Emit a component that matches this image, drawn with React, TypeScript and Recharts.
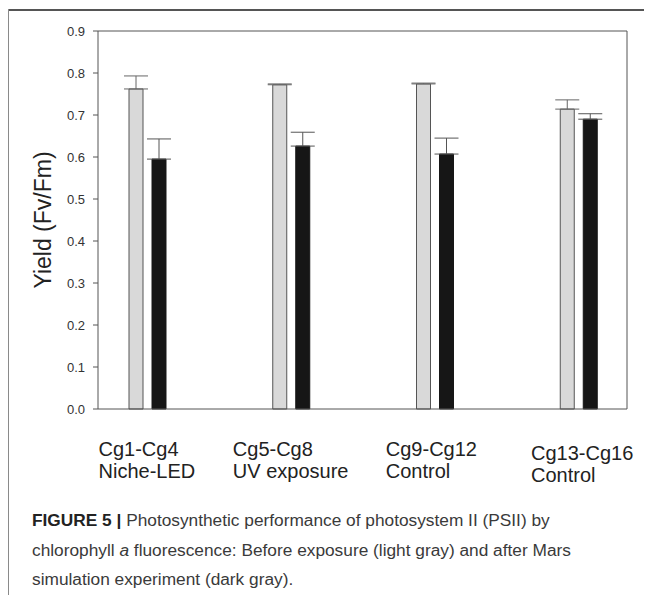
import { Bar, BarChart, ErrorBar, XAxis, YAxis } from "recharts";

const FONT = '"Liberation Sans", Arial, sans-serif';

// values (yield Fv/Fm)
const groupNames = ["Cg1-Cg4", "Cg5-Cg8", "Cg9-Cg12", "Cg13-Cg16"];
const groupTreatments = ["Niche-LED", "UV exposure", "Control", "Control"];
const beforeYield = [0.762, 0.772, 0.774, 0.714];
const beforeSd = [0.031, 0.002, 0.002, 0.022];
const afterYield = [0.595, 0.626, 0.607, 0.69];
const afterSd = [0.048, 0.033, 0.038, 0.013];
const yTicks = [0, 0.1, 0.2, 0.3, 0.4, 0.5, 0.6, 0.7, 0.8, 0.9];

// small hand nudges of the two-line group labels (px)
const labelNudgeX = [-1, -1, -4, 3];
const labelNudgeY = [0, 0, 0, 4];

const rows = groupNames.map((name, i) => ({
  name,
  before: beforeYield[i],
  beforeErr: [0, beforeSd[i]],
  after: afterYield[i],
  afterErr: [0, afterSd[i]],
}));

let ctx: CanvasRenderingContext2D | null = null;
function textWidth(s: string, size: number) {
  if (!ctx) ctx = document.createElement("canvas").getContext("2d");
  if (!ctx) return s.length * size * 0.5;
  ctx.font = `${size}px "Liberation Sans"`;
  return ctx.measureText(s).width;
}

function GroupTick(props: any) {
  const { x, y, index } = props;
  const size = 20;
  const top = groupNames[index];
  const bottom = groupTreatments[index];
  const w = Math.max(textWidth(top, size), textWidth(bottom, size));
  const left = x - w / 2 + (labelNudgeX[index] || 0);
  const dy = labelNudgeY[index] || 0;
  return (
    <g fontSize={size} fill="#222" fontFamily={FONT}>
      <text x={left} y={y + 47 + dy}>{top}</text>
      <text x={left} y={y + 69 + dy}>{bottom}</text>
    </g>
  );
}

export default function App() {
  const axisStroke = { stroke: "#555", strokeWidth: 1 };
  return (
    <div
      style={{
        position: "relative",
        width: 645,
        height: 586,
        marginLeft: -1,
        marginTop: 1,
        fontFamily: FONT,
      }}
    >
      <div style={{ position: "absolute", left: 0, top: 0, width: 645, height: 2, background: "#555" }} />
      <div style={{ position: "absolute", left: 0, top: 0, width: 2, height: 586, background: "#8a8a8a" }} />
      <div style={{ position: "absolute", left: 0, top: 0 }}>
        <BarChart
          width={645}
          height={490}
          data={rows}
          margin={{ top: 20, right: 20, left: 0, bottom: 0 }}
          barSize={14}
          barGap={9}
        >
          <XAxis
            dataKey="name"
            height={90}
            padding={{ left: -22, right: -24 }}
            tickLine={false}
            tickSize={0}
            tickMargin={0}
            axisLine={axisStroke}
            tick={<GroupTick />}
            interval={0}
          />
          <XAxis
            xAxisId="top"
            dataKey="name"
            orientation="top"
            height={2}
            tick={false}
            tickLine={false}
            axisLine={axisStroke}
          />
          <YAxis
            domain={[0, 0.9]}
            ticks={yTicks}
            width={91}
            tickSize={5}
            tickMargin={8}
            tickLine={axisStroke}
            axisLine={axisStroke}
            tickFormatter={(v: number) => v.toFixed(1)}
            tick={{ fontSize: 13, fill: "#333", fontFamily: FONT }}
            label={{
              value: "Yield (Fv/Fm)",
              angle: -90,
              position: "center",
              dx: -10,
              fontSize: 23,
              fill: "#222",
              fontFamily: FONT,
            }}
          />
          <YAxis
            yAxisId="right"
            orientation="right"
            domain={[0, 0.9]}
            width={5}
            tick={false}
            tickLine={false}
            axisLine={axisStroke}
          />
          <Bar dataKey="before" fill="#d9d9d9" stroke="#555" strokeWidth={1} isAnimationActive={false}>
            <ErrorBar dataKey="beforeErr" direction="y" width={12} stroke="#666" strokeWidth={1} />
          </Bar>
          <Bar dataKey="after" fill="#161616" stroke="#161616" strokeWidth={1} isAnimationActive={false}>
            <ErrorBar dataKey="afterErr" direction="y" width={12} stroke="#555" strokeWidth={1} />
          </Bar>
        </BarChart>
      </div>
      <div
        style={{
          position: "absolute",
          left: 25,
          top: 497,
          fontSize: 17.3,
          lineHeight: "29.5px",
          color: "#3a3a3a",
          whiteSpace: "nowrap",
        }}
      >
        <b style={{ color: "#222" }}>FIGURE 5 |</b> Photosynthetic performance of photosystem II (PSII) by
        <br />
        chlorophyll <i>a</i> fluorescence: Before exposure (light gray) and after Mars
        <br />
        simulation experiment (dark gray).
      </div>
    </div>
  );
}
